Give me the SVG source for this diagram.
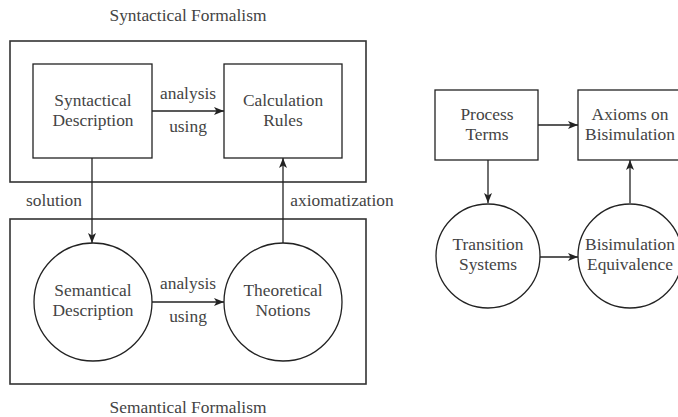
<svg xmlns="http://www.w3.org/2000/svg" width="678" height="417" viewBox="0 0 678 417">
<defs>
<marker id="ah" viewBox="0 0 10 8" refX="10" refY="4" markerWidth="10" markerHeight="8" markerUnits="userSpaceOnUse" orient="auto">
<path d="M0,0 L10,4 L0,8 L2.5,4 Z" fill="#222"/>
</marker>
</defs>
<style>
text{font-family:"Liberation Serif","DejaVu Serif",serif;font-size:17.4px;fill:#444;text-anchor:middle}
.frame{fill:none;stroke:#333;stroke-width:1.6}
.node{fill:#fff;stroke:#222;stroke-width:1.3}
.edge{fill:none;stroke:#222;stroke-width:1.3;marker-end:url(#ah)}
</style>
<rect width="678" height="417" fill="#fff"/>
<g id="syntactical-formalism">
<rect class="frame" x="10" y="41" width="356" height="141"/>
<text x="188" y="21">Syntactical Formalism</text>
</g>
<g id="semantical-formalism">
<rect class="frame" x="10" y="219" width="356" height="165"/>
<text x="188" y="413">Semantical Formalism</text>
</g>
<g id="connectors">
<path class="edge" d="M152,111 L224,111"/>
<path class="edge" d="M92,158 L92,243"/>
<path class="edge" d="M283,243 L283,158"/>
<path class="edge" d="M152,302 L224,302"/>
<path class="edge" d="M538,125 L578,125"/>
<path class="edge" d="M488,160 L488,203"/>
<path class="edge" d="M630,203 L630,160"/>
<path class="edge" d="M538,257 L578,257"/>
<text x="188" y="99">analysis</text>
<text x="188" y="132">using</text>
<text x="188" y="289">analysis</text>
<text x="188" y="322">using</text>
<text x="54" y="206">solution</text>
<text x="342" y="206">axiomatization</text>
</g>
<g id="syntactical-description">
<rect class="node" x="33" y="64" width="119" height="94"/>
<text x="93" y="106">Syntactical</text>
<text x="93" y="126">Description</text>
</g>
<g id="calculation-rules">
<rect class="node" x="224" y="64" width="118" height="94"/>
<text x="283" y="106">Calculation</text>
<text x="283" y="126">Rules</text>
</g>
<g id="semantical-description">
<circle class="node" cx="93" cy="302" r="59"/>
<text x="93" y="296">Semantical</text>
<text x="93" y="316">Description</text>
</g>
<g id="theoretical-notions">
<circle class="node" cx="283" cy="302" r="59"/>
<text x="283" y="296">Theoretical</text>
<text x="283" y="316">Notions</text>
</g>
<g id="process-terms">
<rect class="node" x="435" y="90" width="103" height="70"/>
<text x="487" y="120">Process</text>
<text x="487" y="140">Terms</text>
</g>
<g id="axioms-on-bisimulation">
<rect class="node" x="578" y="90" width="103" height="70"/>
<text x="630" y="120">Axioms on</text>
<text x="630" y="140">Bisimulation</text>
</g>
<g id="transition-systems">
<circle class="node" cx="488" cy="256" r="52"/>
<text x="488" y="250">Transition</text>
<text x="488" y="270">Systems</text>
</g>
<g id="bisimulation-equivalence">
<circle class="node" cx="630" cy="256" r="52"/>
<text x="630" y="250">Bisimulation</text>
<text x="630" y="270">Equivalence</text>
</g>
</svg>
